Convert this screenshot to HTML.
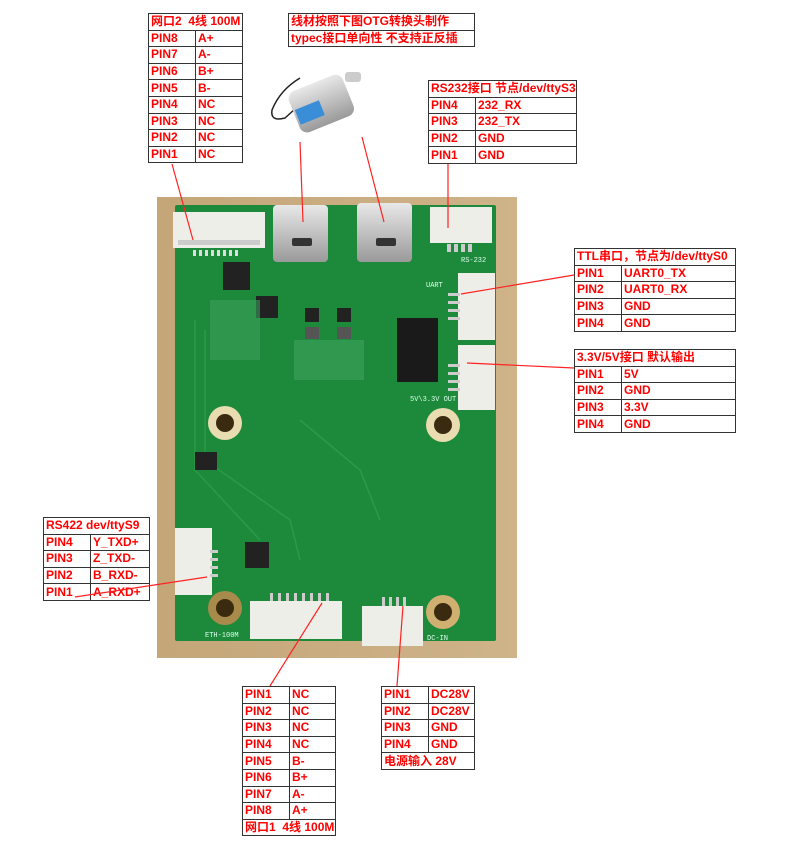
<!DOCTYPE html>
<html><head><meta charset="utf-8"><style>
body{margin:0;width:794px;height:852px;background:#fff;position:relative;overflow:hidden;font-family:"Liberation Sans","Noto Sans CJK SC",sans-serif}
table{position:absolute;border-collapse:collapse;table-layout:fixed;background:#fff}
td{border:1.2px solid #333;color:#f00;font-weight:bold;font-size:12px;padding:0 0 0 2px;height:15.6px;line-height:15px;white-space:nowrap;overflow:hidden}
svg{position:absolute;left:0;top:0}
</style></head><body>
<svg width="794" height="852">
<defs><linearGradient id="bg" x1="0" x2="1"><stop offset="0" stop-color="#c4a678"/><stop offset="1" stop-color="#cfb389"/></linearGradient>
<linearGradient id="sv" x1="0" x2="0" y1="0" y2="1"><stop offset="0" stop-color="#e8e8e8"/><stop offset="1" stop-color="#9a9a9a"/></linearGradient></defs>
<rect x="157" y="197" width="360" height="461" fill="url(#bg)"/>
<rect x="175" y="205" width="321" height="436" fill="#1c8a3a" rx="2"/>
<path d="M195 320 L195 470 L260 540 M205 330 L205 460 L290 520 L300 560 M300 420 L360 470 L380 520" stroke="#2a9a48" stroke-width="1.5" fill="none"/>
<rect x="173" y="212" width="92" height="36" fill="#eeeee8"/><rect x="178" y="240" width="82" height="5" fill="#ccc"/>
<g fill="#ddd"><rect x="193" y="250" width="3" height="6"/><rect x="199" y="250" width="3" height="6"/><rect x="205" y="250" width="3" height="6"/><rect x="211" y="250" width="3" height="6"/><rect x="217" y="250" width="3" height="6"/><rect x="223" y="250" width="3" height="6"/><rect x="229" y="250" width="3" height="6"/><rect x="235" y="250" width="3" height="6"/></g>
<rect x="273" y="205" width="55" height="57" fill="url(#sv)" rx="4"/><rect x="292" y="238" width="20" height="8" fill="#333" rx="2"/>
<rect x="357" y="203" width="55" height="59" fill="url(#sv)" rx="4"/><rect x="376" y="238" width="20" height="8" fill="#333" rx="2"/>
<rect x="430" y="207" width="62" height="36" fill="#eeeee8"/>
<g fill="#ccc"><rect x="447" y="244" width="4" height="8"/><rect x="454" y="244" width="4" height="8"/><rect x="461" y="244" width="4" height="8"/><rect x="468" y="244" width="4" height="8"/></g>
<rect x="458" y="273" width="37" height="67" fill="#eeeee8"/><rect x="458" y="345" width="37" height="65" fill="#eeeee8"/>
<g fill="#ccc"><rect x="448" y="293" width="12" height="3"/><rect x="448" y="301" width="12" height="3"/><rect x="448" y="309" width="12" height="3"/><rect x="448" y="317" width="12" height="3"/>
<rect x="448" y="364" width="12" height="3"/><rect x="448" y="372" width="12" height="3"/><rect x="448" y="380" width="12" height="3"/><rect x="448" y="388" width="12" height="3"/></g>
<rect x="175" y="528" width="37" height="67" fill="#eeeee8"/>
<g fill="#ccc"><rect x="210" y="550" width="8" height="3"/><rect x="210" y="558" width="8" height="3"/><rect x="210" y="566" width="8" height="3"/><rect x="210" y="574" width="8" height="3"/></g>
<rect x="250" y="601" width="92" height="38" fill="#eeeee8"/>
<g fill="#ccc"><rect x="270" y="593" width="3" height="8"/><rect x="278" y="593" width="3" height="8"/><rect x="286" y="593" width="3" height="8"/><rect x="294" y="593" width="3" height="8"/><rect x="302" y="593" width="3" height="8"/><rect x="310" y="593" width="3" height="8"/><rect x="318" y="593" width="3" height="8"/><rect x="326" y="593" width="3" height="8"/></g>
<rect x="362" y="606" width="61" height="40" fill="#eeeee8"/>
<g fill="#ccc"><rect x="382" y="597" width="3" height="9"/><rect x="389" y="597" width="3" height="9"/><rect x="396" y="597" width="3" height="9"/><rect x="403" y="597" width="3" height="9"/></g>
<rect x="397" y="318" width="41" height="64" fill="#1a1a1a"/>
<rect x="223" y="262" width="27" height="28" fill="#222"/><rect x="245" y="542" width="24" height="26" fill="#222"/>
<rect x="256" y="296" width="22" height="22" fill="#222"/><rect x="305" y="308" width="14" height="14" fill="#222"/><rect x="337" y="308" width="14" height="14" fill="#222"/>
<rect x="305" y="327" width="14" height="12" fill="#555"/><rect x="337" y="327" width="14" height="12" fill="#555"/>
<rect x="294" y="340" width="70" height="40" fill="#3a9e5a" opacity=".7"/>
<rect x="210" y="300" width="50" height="60" fill="#3a9e5a" opacity=".6"/>
<rect x="195" y="452" width="22" height="18" fill="#222"/>
<circle cx="225" cy="423" r="17" fill="#e8dcb0"/><circle cx="225" cy="423" r="9" fill="#3a2a10"/>
<circle cx="443" cy="425" r="17" fill="#e8dcb0"/><circle cx="443" cy="425" r="9" fill="#3a2a10"/>
<circle cx="225" cy="608" r="17" fill="#a88a4a"/><circle cx="225" cy="608" r="9" fill="#3a2a10"/>
<circle cx="443" cy="612" r="17" fill="#d0b070"/><circle cx="443" cy="612" r="9" fill="#3a2a10"/>
<g fill="#dfe" font-size="7" font-family="Liberation Mono,monospace"><text x="410" y="401">5V\3.3V OUT</text><text x="426" y="287">UART</text><text x="461" y="262">RS-232</text><text x="205" y="637">ETH-100M</text><text x="427" y="640">DC-IN</text></g>
<g><path d="M300 78 Q280 90 272 110 Q270 122 285 118 L305 100" stroke="#222" fill="none" stroke-width="1.5"/>
<rect x="292" y="82" width="58" height="44" rx="8" fill="url(#sv)" transform="rotate(-22 320 103)"/>
<rect x="294" y="100" width="26" height="16" fill="#3a8ed8" transform="rotate(-22 320 103)"/>
<rect x="345" y="72" width="16" height="10" rx="3" fill="#ccc"/></g>
<g stroke="#f22" stroke-width="1.2" fill="#f22">
<line x1="172" y1="164" x2="193" y2="240"/><line x1="300" y1="142" x2="303" y2="222"/><line x1="362" y1="137" x2="384" y2="222"/><line x1="448" y1="164" x2="448" y2="228"/>
<line x1="574" y1="275" x2="461" y2="294"/><line x1="574" y1="368" x2="467" y2="363"/>
<line x1="270" y1="686" x2="322" y2="603"/><line x1="397" y1="686" x2="403" y2="606"/></g>
</svg>

<table style="left:148px;top:13px;width:95px"><col style="width:47px"><col>
<tr><td colspan="2">网口2&nbsp; 4线 100M</td></tr><tr><td>PIN8</td><td>A+</td></tr><tr><td>PIN7</td><td>A-</td></tr><tr><td>PIN6</td><td>B+</td></tr><tr><td>PIN5</td><td>B-</td></tr><tr><td>PIN4</td><td>NC</td></tr><tr><td>PIN3</td><td>NC</td></tr><tr><td>PIN2</td><td>NC</td></tr><tr><td>PIN1</td><td>NC</td></tr></table>

<table style="left:288px;top:13px;width:187px"><tr><td>线材按照下图OTG转换头制作</td></tr><tr><td>typec接口单向性 不支持正反插</td></tr></table>

<table style="left:428px;top:80px;width:149px"><col style="width:47px"><col>
<tr><td colspan="2">RS232接口 节点/dev/ttyS3</td></tr><tr><td>PIN4</td><td>232_RX</td></tr><tr><td>PIN3</td><td>232_TX</td></tr><tr><td>PIN2</td><td>GND</td></tr><tr><td>PIN1</td><td>GND</td></tr></table>

<table style="left:574px;top:248px;width:162px"><col style="width:47px"><col>
<tr><td colspan="2">TTL串口，节点为/dev/ttyS0</td></tr><tr><td>PIN1</td><td>UART0_TX</td></tr><tr><td>PIN2</td><td>UART0_RX</td></tr><tr><td>PIN3</td><td>GND</td></tr><tr><td>PIN4</td><td>GND</td></tr></table>

<table style="left:574px;top:349px;width:162px"><col style="width:47px"><col>
<tr><td colspan="2">3.3V/5V接口 默认输出</td></tr><tr><td>PIN1</td><td>5V</td></tr><tr><td>PIN2</td><td>GND</td></tr><tr><td>PIN3</td><td>3.3V</td></tr><tr><td>PIN4</td><td>GND</td></tr></table>

<table style="left:43px;top:517px;width:107px"><col style="width:47px"><col>
<tr><td colspan="2">RS422 dev/ttyS9</td></tr><tr><td>PIN4</td><td>Y_TXD+</td></tr><tr><td>PIN3</td><td>Z_TXD-</td></tr><tr><td>PIN2</td><td>B_RXD-</td></tr><tr><td>PIN1</td><td>A_RXD+</td></tr></table>

<table style="left:242px;top:686px;width:94px"><col style="width:47px"><col>
<tr><td>PIN1</td><td>NC</td></tr><tr><td>PIN2</td><td>NC</td></tr><tr><td>PIN3</td><td>NC</td></tr><tr><td>PIN4</td><td>NC</td></tr><tr><td>PIN5</td><td>B-</td></tr><tr><td>PIN6</td><td>B+</td></tr><tr><td>PIN7</td><td>A-</td></tr><tr><td>PIN8</td><td>A+</td></tr><tr><td colspan="2">网口1&nbsp; 4线 100M</td></tr></table>

<table style="left:381px;top:686px;width:94px"><col style="width:47px"><col>
<tr><td>PIN1</td><td>DC28V</td></tr><tr><td>PIN2</td><td>DC28V</td></tr><tr><td>PIN3</td><td>GND</td></tr><tr><td>PIN4</td><td>GND</td></tr><tr><td colspan="2">电源输入 28V</td></tr></table>

<svg width="794" height="852" style="pointer-events:none"><line x1="75" y1="597" x2="207" y2="577" stroke="#f22" stroke-width="1.2"/></svg>
</body></html>
